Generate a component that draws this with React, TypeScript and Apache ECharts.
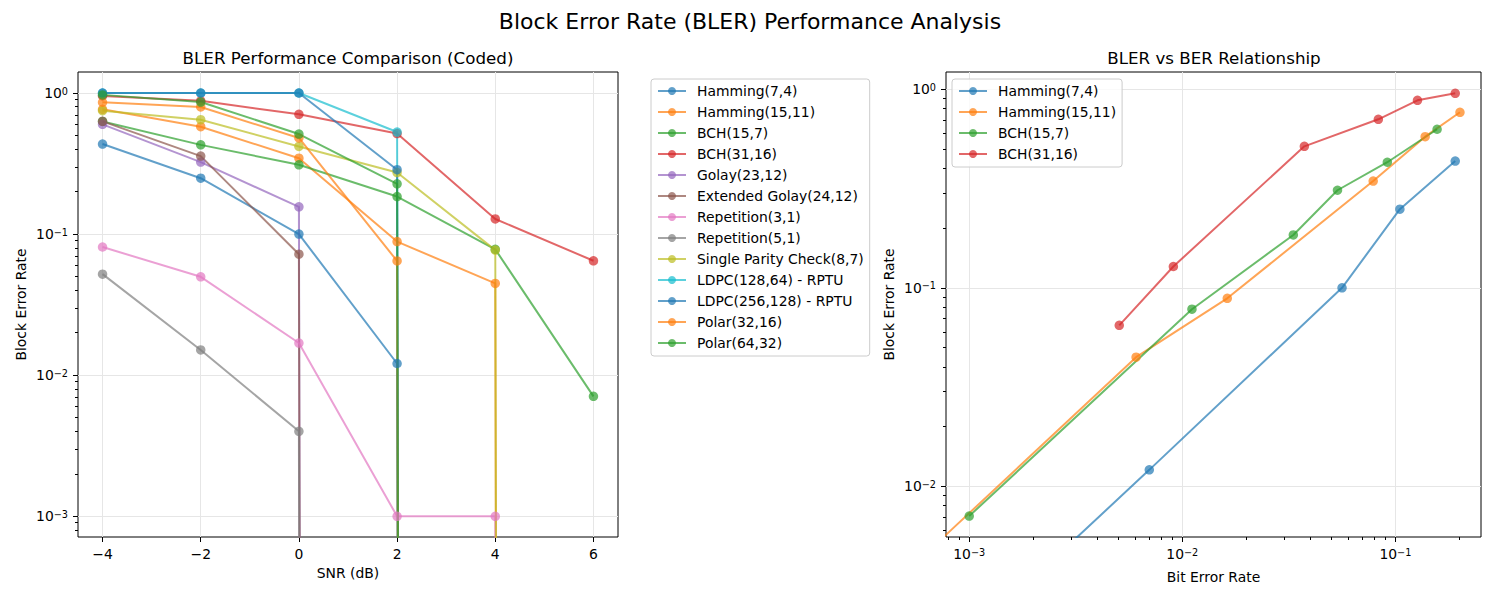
import React, { useEffect, useRef } from "react";
import * as echarts from "echarts";

// ---------- data ----------
const snrDb = [-4, -2, 0, 2, 4, 6];

const codeNames = [
  "Hamming(7,4)",
  "Hamming(15,11)",
  "BCH(15,7)",
  "BCH(31,16)",
  "Golay(23,12)",
  "Extended Golay(24,12)",
  "Repetition(3,1)",
  "Repetition(5,1)",
  "Single Parity Check(8,7)",
  "LDPC(128,64) - RPTU",
  "LDPC(256,128) - RPTU",
  "Polar(32,16)",
  "Polar(64,32)",
];

// BLER per SNR point (0 = no block errors observed)
const blerHamming74 = [0.435, 0.249, 0.1, 0.0121, 0, 0];
const blerHamming1511 = [0.766, 0.577, 0.345, 0.0885, 0.0447, 0];
const blerBch157 = [0.629, 0.429, 0.31, 0.1845, 0.078, 0.00708];
const blerBch3116 = [0.954, 0.88, 0.706, 0.516, 0.128, 0.0647];
const blerGolay = [0.6, 0.324, 0.156, 0, 0, 0];
const blerExtGolay = [0.63, 0.357, 0.072, 0, 0, 0];
const blerRep3 = [0.081, 0.0498, 0.0169, 0.001, 0.001, 0];
const blerRep5 = [0.052, 0.0151, 0.004, 0, 0, 0];
const blerSpc = [0.75, 0.647, 0.418, 0.273, 0.077, 0];
const blerLdpc128 = [1.0, 1.0, 1.0, 0.529, 0, 0];
const blerLdpc256 = [1.0, 1.0, 1.0, 0.286, 0, 0];
const blerPolar32 = [0.86, 0.796, 0.48, 0.0645, 0, 0];
const blerPolar64 = [0.97, 0.863, 0.512, 0.227, 0, 0];

// BER per SNR point for the first four codes
const berHamming74 = [0.191, 0.105, 0.0562, 0.007, 0, 0];
const berHamming1511 = [0.201, 0.138, 0.0787, 0.01626, 0.00607, 0];
const berBch157 = [0.157, 0.0917, 0.0535, 0.0332, 0.0111, 0.001];
const berBch3116 = [0.191, 0.127, 0.0832, 0.0374, 0.00908, 0.00506];

const blerSeries = [
  blerHamming74, blerHamming1511, blerBch157, blerBch3116, blerGolay, blerExtGolay,
  blerRep3, blerRep5, blerSpc, blerLdpc128, blerLdpc256, blerPolar32, blerPolar64,
];
const berSeries = [berHamming74, berHamming1511, berBch157, berBch3116];

const palette = [
  "#1f77b4", "#ff7f0e", "#2ca02c", "#d62728", "#9467bd", "#8c564b",
  "#e377c2", "#7f7f7f", "#bcbd22", "#17becf", "#1f77b4", "#ff7f0e", "#2ca02c",
];

const snrTicks = [-4, -2, 0, 2, 4, 6];
const logMajorLeft = [0.001, 0.01, 0.1, 1];
const logMajorRightX = [0.001, 0.01, 0.1];
const logMajorRightY = [0.01, 0.1, 1];

// ---------- helpers ----------
const FONT = "DejaVu Sans";
// a zero can't sit on a log axis; it is sent far below the view (like matplotlib's clip)
const onLog = (v: number) => (v > 0 ? v : 1e-300);

function minorLogTicks(lo: number, hi: number) {
  const out: number[] = [];
  for (let e = -5; e <= 1; e++) {
    for (let m = 2; m <= 9; m++) {
      const v = parseFloat((m * Math.pow(10, e)).toPrecision(6));
      if (v >= lo && v <= hi) out.push(v);
    }
  }
  return out;
}

const powLabel = (v: number) => {
  const e = Math.round(Math.log10(v));
  return "10{sup|" + (e < 0 ? "\u2212" + -e : String(e)) + "}";
};

const labelRich = {
  sup: { fontSize: 9.7, fontFamily: FONT, color: "#000", verticalAlign: "top", lineHeight: 8, padding: [0, 0, 4, 0] },
};

export default function App() {
  const ref = useRef<HTMLDivElement>(null);

  useEffect(() => {
    if (!ref.current) return;
    const chart = echarts.init(ref.current, null, { renderer: "svg" });

    const leftYMin = 7.13e-4, leftYMax = 1.409;
    const rightXMin = 7.78e-4, rightXMax = 0.2523;
    const rightYMin = 0.005553, rightYMax = 1.222;

    const noLine = { show: false, onZero: false };
    const tickStyle = { show: true, length: 5, lineStyle: { color: "#000", width: 1 } };
    const minorTickStyle = { show: true, length: 3, lineStyle: { color: "#000", width: 1 } };
    const splitStyle = { show: true, lineStyle: { color: "#e6e6e6", width: 1 } };
    const labelBase = { color: "#000", fontSize: 13.9, fontFamily: FONT };
    const nameStyle = { color: "#000", fontSize: 13.9, fontFamily: FONT };

    const seriesLeft = codeNames.map((name, i) => ({
      type: "line",
      name,
      xAxisIndex: 0,
      yAxisIndex: 0,
      data: snrDb.map((x, j) => [x, onLog(blerSeries[i][j])]),
      symbol: "circle",
      symbolSize: 9.5,
      showAllSymbol: true,
      clip: true,
      lineStyle: { color: palette[i], width: 2, opacity: 0.7 },
      itemStyle: { color: palette[i], opacity: 0.7 },
      emphasis: { disabled: true },
      z: 2,
    }));

    const seriesRight = berSeries.map((ber, i) => ({
      type: "line",
      name: codeNames[i],
      xAxisIndex: 1,
      yAxisIndex: 2,
      data: ber.map((b, j) => [onLog(b), onLog(blerSeries[i][j])]),
      symbol: "circle",
      symbolSize: 9.5,
      showAllSymbol: true,
      clip: true,
      lineStyle: { color: palette[i], width: 2, opacity: 0.7 },
      itemStyle: { color: palette[i], opacity: 0.7 },
      emphasis: { disabled: true },
      z: 2,
    }));

    const legendCommon = {
      orient: "vertical",
      itemWidth: 28,
      itemHeight: 10,
      itemGap: 7,
      padding: [5, 6, 6, 6],
      borderColor: "#cccccc",
      borderWidth: 1,
      borderRadius: 3,
      backgroundColor: "rgba(255,255,255,0.8)",
      textStyle: { color: "#000", fontSize: 13.9, fontFamily: FONT, lineHeight: 14, padding: [0, 0, 0, 6] },
      selectedMode: false,
    };

    chart.setOption({
      animation: false,
      textStyle: { fontFamily: FONT },
      grid: [
        { left: 78, top: 72, width: 540, height: 465, show: true, borderColor: "#000", borderWidth: 1, backgroundColor: "transparent", containLabel: false, outerBoundsMode: "none" },
        { left: 946, top: 72, width: 535, height: 465, show: true, borderColor: "#000", borderWidth: 1, backgroundColor: "transparent", containLabel: false, outerBoundsMode: "none" },
      ],
      xAxis: [
        {
          type: "value",
          gridIndex: 0,
          position: "bottom",
          min: -4.5,
          max: 6.5,
          name: "SNR (dB)",
          nameLocation: "middle",
          nameGap: 29,
          nameMoveOverlap: false,
          nameTextStyle: nameStyle,
          axisLine: noLine,
          axisTick: { ...tickStyle, customValues: snrTicks },
          axisLabel: {
            ...labelBase,
            margin: 10,
            customValues: snrTicks,
            formatter: (v: number) => (v < 0 ? "\u2212" + Math.abs(v) : String(v)),
          },
          splitLine: splitStyle,
        },
        {
          type: "log",
          gridIndex: 1,
          position: "bottom",
          min: rightXMin,
          max: rightXMax,
          name: "Bit Error Rate",
          nameLocation: "middle",
          nameGap: 33,
          nameMoveOverlap: false,
          nameTextStyle: nameStyle,
          axisLine: noLine,
          axisTick: { ...tickStyle, customValues: logMajorRightX },
          axisLabel: { ...labelBase, margin: 10, customValues: logMajorRightX, formatter: powLabel, rich: labelRich },
          splitLine: splitStyle,
        },
        {
          type: "log",
          gridIndex: 1,
          position: "bottom",
          offset: 0,
          min: rightXMin,
          max: rightXMax,
          axisLine: noLine,
          axisTick: { ...minorTickStyle, customValues: minorLogTicks(rightXMin, rightXMax) },
          axisLabel: { show: false },
          splitLine: { show: false },
        },
      ],
      yAxis: [
        {
          type: "log",
          gridIndex: 0,
          position: "left",
          min: leftYMin,
          max: leftYMax,
          name: "Block Error Rate",
          nameLocation: "middle",
          nameGap: 50,
          nameMoveOverlap: false,
          nameTextStyle: nameStyle,
          axisLine: noLine,
          axisTick: { ...tickStyle, customValues: logMajorLeft },
          axisLabel: { ...labelBase, margin: 10, customValues: logMajorLeft, formatter: powLabel, rich: labelRich },
          splitLine: splitStyle,
        },
        {
          type: "log",
          gridIndex: 0,
          position: "left",
          offset: 0,
          min: leftYMin,
          max: leftYMax,
          axisLine: noLine,
          axisTick: { ...minorTickStyle, customValues: minorLogTicks(leftYMin, leftYMax) },
          axisLabel: { show: false },
          splitLine: { show: false },
        },
        {
          type: "log",
          gridIndex: 1,
          position: "left",
          min: rightYMin,
          max: rightYMax,
          name: "Block Error Rate",
          nameLocation: "middle",
          nameGap: 50,
          nameMoveOverlap: false,
          nameTextStyle: nameStyle,
          axisLine: noLine,
          axisTick: { ...tickStyle, customValues: logMajorRightY },
          axisLabel: { ...labelBase, margin: 10, customValues: logMajorRightY, formatter: powLabel, rich: labelRich },
          splitLine: splitStyle,
        },
        {
          type: "log",
          gridIndex: 1,
          position: "left",
          offset: 0,
          min: rightYMin,
          max: rightYMax,
          axisLine: noLine,
          axisTick: { ...minorTickStyle, customValues: minorLogTicks(rightYMin, rightYMax) },
          axisLabel: { show: false },
          splitLine: { show: false },
        },
      ],
      legend: [
        { ...legendCommon, left: 651, top: 79, data: codeNames },
        { ...legendCommon, left: 952, top: 79, data: codeNames.slice(0, 4) },
      ],
      graphic: [
        {
          type: "text",
          x: 750,
          y: 21,
          style: { text: "Block Error Rate (BLER) Performance Analysis", fill: "#000", font: `22px "${FONT}"`, textAlign: "center", textVerticalAlign: "middle" },
        },
        {
          type: "text",
          x: 348,
          y: 58,
          style: { text: "BLER Performance Comparison (Coded)", fill: "#000", font: `16.7px "${FONT}"`, textAlign: "center", textVerticalAlign: "middle" },
        },
        {
          type: "text",
          x: 1214,
          y: 58,
          style: { text: "BLER vs BER Relationship", fill: "#000", font: `16.7px "${FONT}"`, textAlign: "center", textVerticalAlign: "middle" },
        },
      ],
      series: [...seriesLeft, ...seriesRight],
    });

    return () => chart.dispose();
  }, []);

  return <div ref={ref} style={{ width: 1500, height: 600, position: "absolute", left: 0, top: 0 }} />;
}
